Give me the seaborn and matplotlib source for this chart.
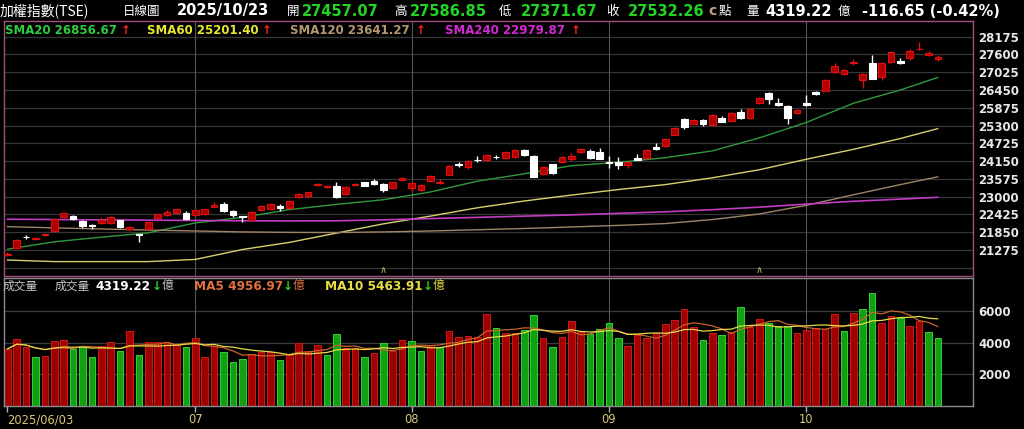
import numpy as np
import pandas as pd
import matplotlib
matplotlib.use("Agg")
import matplotlib.pyplot as plt
import matplotlib.transforms as mtransforms
import seaborn as sns

# daily candles 2025/06/03 - 2025/10/23
opens = [21120, 21350, 21700, 21630, 21760, 21890, 22340, 22360, 22210, 22070,
         22160, 22140, 22240, 21945, 21780, 21955, 22300, 22410, 22460, 22480,
         22410, 22440, 22680, 22750, 22550, 22360, 22250, 22560, 22600, 22690,
         22630, 22980, 23010, 23370, 23320, 23330, 23070, 23380, 23460, 23520,
         23420, 23280, 23550, 23290, 23230, 23520, 23430, 23710, 24050, 23970,
         24200, 24190, 24290, 24250, 24280, 24510, 24320, 23730, 24050, 24110,
         24220, 24430, 24480, 24450, 24130, 24120, 24020, 24260, 24240, 24620,
         24640, 25000, 25500, 25360, 25480, 25320, 25540, 25460, 25750, 25530,
         26040, 26360, 26040, 25940, 25700, 26040, 26370, 26430, 27030, 26970,
         27330, 26760, 27320, 26860, 27340, 27400, 27480, 27760, 27590, 27457.07]
highs = [21200, 21630, 21750, 21700, 21830, 22290, 22480, 22400, 22230, 22100,
         22330, 22370, 22260, 22060, 21800, 22200, 22450, 22580, 22610, 22540,
         22590, 22610, 22830, 22840, 22570, 22380, 22530, 22720, 22780, 22760,
         22880, 23110, 23150, 23440, 23380, 23480, 23330, 23440, 23480, 23560,
         23440, 23480, 23640, 23460, 23400, 23700, 23570, 24020, 24130, 24170,
         24300, 24370, 24340, 24480, 24530, 24550, 24340, 24000, 24070, 24300,
         24400, 24550, 24550, 24580, 24320, 24280, 24130, 24390, 24530, 24730,
         24890, 25240, 25530, 25510, 25510, 25670, 25620, 25740, 25830, 25860,
         26230, 26380, 26180, 25980, 25830, 26300, 26420, 26800, 27310, 27140,
         27460, 27000, 27570, 27350, 27720, 27500, 27780, 28000, 27720, 27586.85]
lows = [21080, 21320, 21630, 21610, 21740, 21870, 22320, 22230, 21980, 21960,
        22130, 22120, 21980, 21900, 21540, 21940, 22280, 22390, 22440, 22260,
        22380, 22420, 22660, 22510, 22330, 22190, 22230, 22540, 22580, 22530,
        22610, 22960, 22950, 23350, 23290, 22970, 23040, 23360, 23330, 23390,
        23150, 23260, 23520, 23190, 23180, 23500, 23420, 23690, 23970, 23900,
        24120, 24160, 24210, 24230, 24260, 24330, 23620, 23700, 23730, 24080,
        24150, 24400, 24220, 24220, 23920, 23900, 23930, 24170, 24220, 24510,
        24620, 24980, 25190, 25340, 25300, 25300, 25400, 25440, 25510, 25510,
        26000, 26000, 25940, 25340, 25670, 25920, 26290, 26410, 27010, 26940,
        27270, 26500, 26790, 26780, 27320, 27300, 27420, 27740, 27560, 27371.67]
closes = [21150, 21600, 21680, 21670, 21800, 22270, 22460, 22290, 22050, 22040,
          22240, 22350, 22010, 22030, 21760, 22190, 22430, 22510, 22590, 22280,
          22570, 22590, 22740, 22540, 22410, 22340, 22515, 22710, 22760, 22620,
          22850, 23090, 23140, 23400, 23350, 22990, 23300, 23410, 23360, 23410,
          23200, 23460, 23590, 23440, 23390, 23680, 23480, 24000, 24030, 24150,
          24180, 24350, 24270, 24460, 24510, 24350, 23650, 23970, 23760, 24280,
          24320, 24530, 24240, 24230, 24100, 24010, 24110, 24190, 24510, 24540,
          24865, 25210, 25240, 25490, 25360, 25650, 25420, 25720, 25530, 25840,
          26200, 26150, 25970, 25530, 25800, 25950, 26310, 26780, 27240, 27110,
          27360, 26970, 26810, 27320, 27670, 27320, 27720, 27790, 27649, 27532.26]
volumes = [3590, 4200, 3740, 3100, 3140, 4100, 4160, 3590, 3780, 3060,
           3800, 4010, 3460, 4710, 3200, 4050, 4050, 4010, 3890, 3740,
           4290, 3100, 3800, 3380, 2780, 2930, 3250, 3420, 3420, 2890,
           3200, 3990, 3480, 3860, 3230, 4560, 3630, 3630, 3060, 3310,
           3990, 3460, 4160, 4100, 3460, 3840, 3690, 4710, 4350, 4410,
           4350, 5810, 4900, 4580, 4580, 4790, 5750, 4270, 3740, 4370,
           5370, 4690, 4540, 4840, 5260, 4270, 3780, 4480, 4270, 4580,
           5180, 5430, 6130, 4960, 4160, 4620, 4460, 4690, 6230, 4960,
           5470, 5260, 5050, 5050, 4620, 4790, 4900, 4840, 5790, 4750,
           5850, 6110, 7120, 5260, 5680, 5580, 5050, 5390, 4690, 4319.22]

# moving averages read every 5 sessions
ma_idx = [0, 5, 10, 15, 20, 25, 30, 35, 40, 45, 50, 55, 60, 65, 70, 75, 80, 85, 90, 95, 99]
sma20 = [21300, 21540, 21690, 21830, 22150, 22330, 22580, 22750, 22900, 23150, 23500,
         23740, 24000, 24110, 24260, 24480, 24900, 25400, 26020, 26450, 26856.67]
sma60 = [20950, 20900, 20900, 20900, 20970, 21290, 21520, 21820, 22120, 22370, 22640,
         22860, 23050, 23230, 23390, 23610, 23870, 24210, 24530, 24880, 25201.40]
sma120 = [22030, 21990, 21955, 21920, 21890, 21860, 21845, 21840, 21860, 21890, 21930,
          21970, 22020, 22070, 22130, 22260, 22440, 22720, 23060, 23390, 23641.27]
sma240 = [22270, 22260, 22250, 22240, 22230, 22220, 22215, 22220, 22250, 22290, 22330,
          22370, 22410, 22460, 22510, 22580, 22660, 22760, 22850, 22920, 22979.87]

month_idx = [0, 20, 43, 64, 85]
month_labels = ["2025/06/03", "07", "08", "09", "10"]
price_grid = [20700, 21275, 21850, 22425, 23000, 23575, 24150, 24725, 25300,
              25875, 26450, 27025, 27600, 28175]
vol_ticks = [2000, 4000, 6000]
marker_idx = [40, 80]

df = pd.DataFrame({"o": opens, "h": highs, "l": lows, "c": closes, "v": volumes})
df["i"] = np.arange(len(df))
df["up"] = df.c >= df.o
df["vup"] = df.c.diff().fillna(1) >= 0
df["ma5"] = df.v.rolling(5, min_periods=1).mean()
df["ma10"] = df.v.rolling(10, min_periods=1).mean()

sns.set_style("dark", {"axes.facecolor": "black", "figure.facecolor": "black"})
plt.rcParams["font.family"] = ["DejaVu Sans", "Noto Sans CJK TC"]
CJK = ["Noto Sans CJK TC", "DejaVu Sans"]

W, H = 1024, 429
fig = plt.figure(figsize=(W / 100, H / 100), dpi=100, facecolor="black")
ax1 = fig.add_axes([4 / W, 1 - 276 / H, 969 / W, 255 / H])
ax2 = fig.add_axes([4 / W, 1 - 405.5 / H, 969 / W, 127.5 / H])

xlim = (-0.35, 102.73)

# price panel
red_face, red_edge = "#b00000", "#e01010"
wick_col = np.where(df.up, red_edge, "white")
ax1.vlines(df.i, df.l, df.h, colors=wick_col, lw=1, zorder=3)
body = (df.c - df.o).abs().clip(lower=6)
ax1.bar(df.i, body, bottom=np.minimum(df.o, df.c), width=0.72,
        color=np.where(df.up, red_face, "white"),
        edgecolor=np.where(df.up, red_edge, "white"), linewidth=0.8, zorder=4)

sns.lineplot(x=ma_idx, y=sma20, ax=ax1, color="#2f9a3c", lw=1, zorder=2)
sns.lineplot(x=ma_idx, y=sma60, ax=ax1, color="#d8d070", lw=1, zorder=2)
sns.lineplot(x=ma_idx, y=sma120, ax=ax1, color="#a08466", lw=1, zorder=2)
sns.lineplot(x=ma_idx, y=sma240, ax=ax1, color="#c03cc0", lw=1.2, zorder=2)

ax1.set_xlim(*xlim)
ax1.set_ylim(20434, 28681)
ax1.set_yticks(price_grid)
ax1.set_yticklabels(["" if p == 20700 else str(p) for p in price_grid])
ax1.yaxis.tick_right()
ax1.tick_params(axis="y", length=0, pad=4, labelsize=8.5, labelcolor="#e8e8e8")
for t in ax1.get_yticklabels():
    t.set_fontweight("bold")
ax1.set_xticks([])
ax1.set_xlabel("")
ax1.set_ylabel("")
ax1.grid(False)
for p in price_grid:
    ax1.axhline(p, color="#363636", lw=0.9, zorder=1)
for m in month_idx[1:]:
    ax1.axvline(m, color="#555555", lw=0.8, zorder=1)
for s in ax1.spines.values():
    s.set_color("#a0507c")
    s.set_linewidth(1)
trans = mtransforms.blended_transform_factory(ax1.transData, ax1.transAxes)
for m in marker_idx:
    ax1.text(m, 0.005, "∧", transform=trans, ha="center", va="bottom",
             color="#c8b464", fontsize=7)

# volume panel
ax2.bar(df.i, df.v, width=0.7,
        color=np.where(df.vup, "#a00000", "#12a012"),
        edgecolor=np.where(df.vup, "#d01818", "#36d036"), linewidth=0.7, zorder=2)
sns.lineplot(x=df.i, y=df.ma5, ax=ax2, color="#c8642c", lw=0.9, zorder=3)
sns.lineplot(x=df.i, y=df.ma10, ax=ax2, color="#e8d848", lw=0.9, zorder=3)
ax2.set_xlim(*xlim)
ax2.set_ylim(0, 8100)
ax2.set_xlabel("")
ax2.set_ylabel("")
ax2.set_yticks(vol_ticks)
ax2.set_yticklabels([str(v) for v in vol_ticks])
ax2.yaxis.tick_right()
ax2.tick_params(axis="y", length=0, pad=4, labelsize=8.5, labelcolor="#e8e8e8")
for t in ax2.get_yticklabels():
    t.set_fontweight("bold")
ax2.grid(False)
for v in vol_ticks:
    ax2.axhline(v, color="#3c3c3c", lw=0.9, zorder=1)
for m in month_idx[1:]:
    ax2.axvline(m, color="#555555", lw=0.8, zorder=1)
ax2.set_xticks(month_idx)
ax2.set_xticklabels(month_labels)
ax2.tick_params(axis="x", length=4, width=1, color="#b0b0b0", pad=1.5,
                labelsize=8.3, labelcolor="#d8c878", bottom=True)
ax2.get_xticklabels()[0].set_horizontalalignment("left")
for s in ax2.spines.values():
    s.set_color("#8c8c8c")
    s.set_linewidth(1)


def ftext(x, y, s, **kw):
    fig.text(x / W, 1 - y / H, s, va="center", ha="left", **kw)


# header line
green = "#22d422"
num = dict(fontsize=10.5, fontweight="bold")
cjk = dict(fontsize=9, family=CJK, color="white")
ftext(0, 11, "加權指數(TSE)", color="white", fontsize=10, family=CJK)
ftext(123, 11, "日線圖", **cjk)
ftext(177, 11, "2025/10/23", color="white", **num)
ftext(287, 11, "開", **cjk)
ftext(302, 11, "27457.07", color=green, **num)
ftext(394, 11, "高", **cjk)
ftext(410, 11, "27586.85", color=green, **num)
ftext(499, 11, "低", **cjk)
ftext(521, 11, "27371.67", color=green, **num)
ftext(606, 11, "收", **cjk)
ftext(628, 11, "27532.26", color=green, **num)
ftext(708, 11, "c", color="#c0a080", fontsize=10, fontweight="bold")
ftext(719, 11, "點", **cjk)
ftext(746, 11, "量", **cjk)
ftext(765, 11, "4319.22", color="white", **num)
ftext(838, 11, "億", **cjk)
ftext(862, 11, "-116.65 (-0.42%)", color="white", **num)

# SMA legend
up_red = "#ff2020"
ftext(5, 31, "SMA20 26856.67", color="#2ecc40", fontsize=8.5, fontweight="bold")
ftext(121, 31, "↑", color=up_red, fontsize=8.5, fontweight="bold")
ftext(147, 31, "SMA60 25201.40", color="#e6e632", fontsize=8.5, fontweight="bold")
ftext(262, 31, "↑", color=up_red, fontsize=8.5, fontweight="bold")
ftext(290, 31, "SMA120 23641.27", color="#b4966e", fontsize=8.5, fontweight="bold")
ftext(416, 31, "↑", color=up_red, fontsize=8.5, fontweight="bold")
ftext(445, 31, "SMA240 22979.87", color="#d22ad2", fontsize=8.5, fontweight="bold")
ftext(571, 31, "↑", color=up_red, fontsize=8.5, fontweight="bold")

# volume legend
dn_green = "#22d422"
ftext(3, 286, "成交量", color="#c8c8c8", fontsize=8.5, family=CJK)
ftext(55, 286, "成交量", color="#c8c8c8", fontsize=8.5, family=CJK)
ftext(95, 286, "4319.22", color="white", fontsize=8.7, fontweight="bold")
ftext(152, 286, "↓", color=dn_green, fontsize=8.7, fontweight="bold")
ftext(162, 286, "億", color="#c8c8c8", fontsize=8.5, family=CJK)
ftext(194, 286, "MA5 4956.97", color="#e07040", fontsize=8.7, fontweight="bold")
ftext(283, 286, "↓", color=dn_green, fontsize=8.7, fontweight="bold")
ftext(293, 286, "億", color="#e07040", fontsize=8.5, family=CJK)
ftext(325, 286, "MA10 5463.91", color="#e8e040", fontsize=8.7, fontweight="bold")
ftext(423, 286, "↓", color=dn_green, fontsize=8.7, fontweight="bold")
ftext(433, 286, "億", color="#e8e040", fontsize=8.5, family=CJK)

fig.savefig("out.png", dpi=100, facecolor="black")
